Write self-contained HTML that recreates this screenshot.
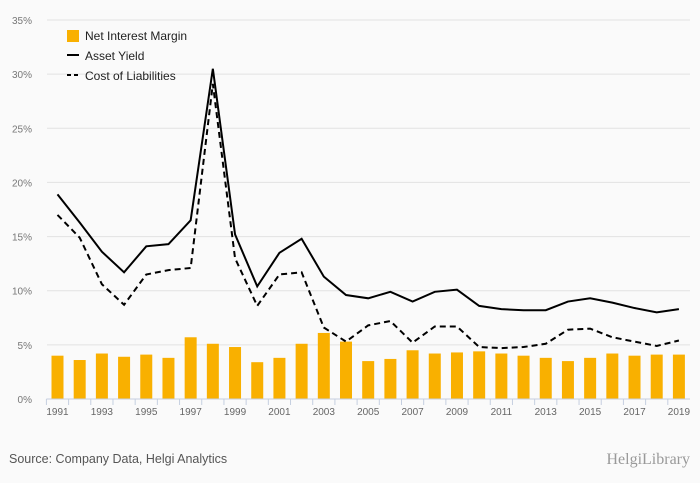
<!DOCTYPE html>
<html><head><meta charset="utf-8"><style>
html,body{margin:0;padding:0;background:#fafafa;}
svg{display:block;font-family:"Liberation Sans",sans-serif;}
</style></head><body>
<svg id="c" width="700" height="483"></svg>
<script>
const years=[1991,1992,1993,1994,1995,1996,1997,1998,1999,2000,2001,2002,2003,2004,2005,2006,2007,2008,2009,2010,2011,2012,2013,2014,2015,2016,2017,2018,2019];
const nim=[4.0,3.6,4.2,3.9,4.1,3.8,5.7,5.1,4.8,3.4,3.8,5.1,6.1,5.3,3.5,3.7,4.5,4.2,4.3,4.4,4.2,4.0,3.8,3.5,3.8,4.2,4.0,4.1,4.1];
const assetYield=[18.9,16.3,13.6,11.7,14.1,14.3,16.5,30.5,15.2,10.4,13.5,14.8,11.3,9.6,9.3,9.9,9.0,9.9,10.1,8.6,8.3,8.2,8.2,9.0,9.3,8.9,8.4,8.0,8.3];
const costLiab=[17.0,14.9,10.6,8.7,11.5,11.9,12.1,29.1,13.0,8.6,11.5,11.7,6.6,5.3,6.8,7.2,5.2,6.7,6.7,4.8,4.7,4.8,5.1,6.4,6.5,5.7,5.3,4.9,5.4];
const yTicks=[0,5,10,15,20,25,30,35];
const svg=document.getElementById('c');
const NS='http://www.w3.org/2000/svg';
const x0=46.4,x1=690,y0=399,yTop=20;
const step=(x1-x0)/years.length;
const X=i=>x0+step*(i+0.5);
const Y=v=>y0-(v/35)*(y0-yTop);
function mk(t,a,p){const e=document.createElementNS(NS,t);for(const k in a)e.setAttribute(k,a[k]);(p||svg).appendChild(e);return e;}
yTicks.forEach(v=>{
  if(v>0){const g=mk('line',{x1:47,x2:690,y1:Y(v),y2:Y(v),stroke:'#e2e2e2','stroke-width':1});
  
  }
  const t=mk('text',{x:32,y:Y(v)+4,'text-anchor':'end','font-size':10,fill:'#777'});t.textContent=v+'%';
  
  
});
nim.forEach((v,i)=>{
  const r=mk('rect',{x:X(i)-6,y:Y(v),width:12,height:y0-Y(v),fill:'#f9b000'});
  
  
});
const ax=mk('line',{x1:x0,x2:x1,y1:y0,y2:y0,stroke:'#c5cfe0','stroke-width':1});


years.forEach((yr,i)=>{
  const tk=mk('line',{x1:x0+step*i,x2:x0+step*i,y1:y0,y2:y0+6,stroke:'#c5cfe0'});
  
  
  if(i%2===0){const t=mk('text',{x:X(i),y:y0+16,'text-anchor':'middle','font-size':10,fill:'#666'});t.textContent=yr;
  
  }
});
const p1=mk('path',{d:assetYield.map((v,i)=>(i?'L':'M')+X(i)+','+Y(v)).join(''),fill:'none',stroke:'#000','stroke-width':2});


const p2=mk('path',{d:costLiab.map((v,i)=>(i?'L':'M')+X(i)+','+Y(v)).join(''),fill:'none',stroke:'#000','stroke-width':2,'stroke-dasharray':'6,4'});


const lg=mk('g',{});


mk('rect',{x:67,y:30,width:12,height:12,fill:'#f9b000'},lg);
mk('line',{x1:67,x2:79,y1:55,y2:55,stroke:'#000','stroke-width':2},lg);
mk('line',{x1:67,x2:79,y1:75,y2:75,stroke:'#000','stroke-width':2,'stroke-dasharray':'4,3'},lg);
[['Net Interest Margin',40],['Asset Yield',60],['Cost of Liabilities',80]].forEach(([s,y])=>{
  const t=mk('text',{x:85,y:y,'font-size':12,fill:'#222'},lg);t.textContent=s;
  
  
});
const src=mk('text',{x:9,y:463,'font-size':12.5,fill:'#555'});src.textContent='Source: Company Data, Helgi Analytics';


const logo=mk('text',{x:690,y:464,'text-anchor':'end','font-size':16,fill:'#999','font-family':'Liberation Serif, serif'});logo.textContent='HelgiLibrary';


</script>
</body></html>
